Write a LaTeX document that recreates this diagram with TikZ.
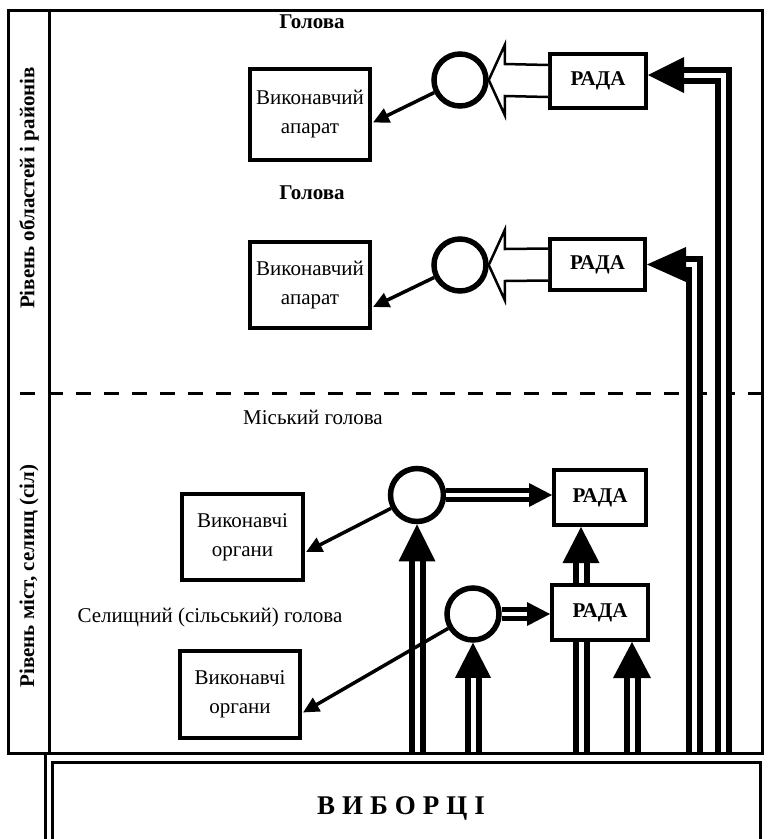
\documentclass[tikz,border=0pt]{standalone}
\usepackage{fontspec}
\setmainfont{Liberation Serif}
\usetikzlibrary{arrows.meta,calc}
\pgfdeclarelayer{bg}
\pgfsetlayers{bg,main}
\begin{document}
\begin{tikzpicture}[x=1pt,y=-1pt,
  frame/.style={line width=3pt},
  ebox/.style={draw,line width=4pt,rectangle,align=center,inner sep=0pt,fill=white,font=\fontsize{21}{29}\selectfont},
  rada/.style={draw,line width=4pt,rectangle,inner sep=0pt,fill=white,font=\fontsize{21}{24}\selectfont\bfseries},
  head/.style={circle,draw,line width=5.5pt,inner sep=0pt,minimum size=52pt,fill=white},
  lbl/.style={font=\fontsize{21}{24}\selectfont\bfseries,inner sep=0pt},
  txt/.style={font=\fontsize{21}{24}\selectfont,inner sep=0pt},
  sarrow/.style={line width=3.5pt,-{Triangle[length=16pt,width=15pt]}},
  dblv/.style={line width=6pt,double=white,double distance=5pt},
  dblh/.style={line width=5pt,double=white,double distance=4pt},
  hollow/.style={line width=2.5pt,fill=white,line join=miter},
  dashline/.style={line width=3pt,dash pattern=on 15pt off 13pt}
]
\useasboundingbox (0,0) rectangle (768,839);

% frame
\draw[frame] (8,10) rectangle (762,753);
\draw[frame] (49,10) -- (49,753);
\draw[frame] (45,753) -- (45,839);
\draw[frame] (52,839) -- (52,762) -- (760,762) -- (760,839);
\node[font=\fontsize{27}{30}\selectfont\bfseries,inner sep=0pt] (vyb) at (401,808) {В\hspace{7pt}И\hspace{7pt}Б\hspace{7pt}О\hspace{7pt}Р\hspace{7pt}Ц\hspace{7pt}І};

% side labels
\node[lbl,rotate=90] (lev1) at (29,188) {Рівень областей і районів};
\node[lbl,rotate=90] (lev2) at (29,576) {Рівень міст, селищ (сіл)};

% upper level
\node[lbl] (g1) at (312,22) {Голова};
\node[lbl] (g2) at (312,193) {Голова};
\node[ebox,minimum width=120pt,minimum height=91pt] (b1) at (310,114.5) {Виконавчий\\апарат};
\node[ebox,minimum width=120pt,minimum height=86pt] (b2) at (310,285) {Виконавчий\\апарат};
\node[head] (c1) at (460,80) {};
\node[head] (c2) at (460,265) {};
\node[rada,minimum width=96pt,minimum height=54pt] (r1) at (598,81) {РАДА};
\node[rada,minimum width=95pt,minimum height=51pt] (r2) at (597.5,264.5) {РАДА};

% lower level
\node[txt] (mg) at (313,417) {Міський голова};
\node[txt] (sg) at (210,617) {Селищний (сільський) голова};
\node[ebox,minimum width=121pt,minimum height=86pt] (b3) at (242.5,537) {Виконавчі\\органи};
\node[ebox,minimum width=120pt,minimum height=87pt] (b4) at (240,694.5) {Виконавчі\\органи};
\node[head,minimum size=53pt] (c3) at (417,495) {};
\node[head] (c4) at (473,614) {};
\node[rada,minimum width=92pt,minimum height=55pt] (r3) at (600,497.5) {РАДА};
\node[rada,minimum width=96pt,minimum height=55pt] (r4) at (600,612.5) {РАДА};

\begin{pgfonlayer}{bg}
  \draw[dashline] (20,393) -- (762,393);
  % long lines to the upper councils
  \draw[dblv] (723,753) -- (723,75) -- (684,75);
  \draw[dblv] (694,753) -- (694,264.5) -- (684,264.5);
  % lower vertical arrows
  \draw[dblv] (c3.south |- 0,753) -- ($(c3.south)+(0,37)$);
  \draw[dblv] (c4.south |- 0,753) -- ($(c4.south)+(0,35)$);
  \draw[dblv] (581,753) -- ($(r3.south -| 581,0)+(0,36)$);
  \draw[dblv] (632,753) -- ($(r4.south)+(32,36)$);
\end{pgfonlayer}

% heads of the long arrows
\fill ($(r1.east)+(0,-6)$) -- ++(36,-18) -- ++(0,36) -- cycle;
\fill (r2.east) -- ++(39,-17.5) -- ++(0,35) -- cycle;
% heads of lower vertical arrows
\fill (c3.south) -- ++(-18.5,37) -- ++(37,0) -- cycle;
\fill (c4.south) -- ++(-18,35) -- ++(36,0) -- cycle;
\fill (r3.south -| 581,0) -- ++(-18.5,36) -- ++(37,0) -- cycle;
\fill ($(r4.south)+(32,0)$) -- ++(-19,36) -- ++(38,0) -- cycle;

% hollow arrows council -> head
\draw[hollow] ($(r1.west)+(0,-16)$) -- ($(c1.east)+(16,-16)$) -- ($(c1.east)+(16,-35)$) -- (c1.east) -- ($(c1.east)+(16,35)$) -- ($(c1.east)+(16,16)$) -- ($(r1.west)+(0,16)$);
\draw[hollow] ($(r2.west)+(0,-16)$) -- ($(c2.east)+(16,-16)$) -- ($(c2.east)+(16,-35)$) -- (c2.east) -- ($(c2.east)+(16,35)$) -- ($(c2.east)+(16,16)$) -- ($(r2.west)+(0,16)$);

% head -> council (lower)
\draw[dblh] (c3.east) -- ($(c3.east -| r3.west)+(-22,0)$);
\fill (c3.east -| r3.west) -- ++(-23,-12) -- ++(0,24) -- cycle;
\draw[dblh] (c4.east) -- ($(c4.east -| r4.west)+(-22,0)$);
\fill (c4.east -| r4.west) -- ++(-23,-12) -- ++(0,24) -- cycle;

% head -> executive
\draw[sarrow] (c1) -- ($(b1.east)+(1,8)$);
\draw[sarrow] (c2) -- ($(b2.east)+(1,22)$);
\draw[sarrow] (c3) -- ($(b3.east)+(1,15)$);
\draw[sarrow] (c4) -- ($(b4.east)+(1,18)$);
\end{tikzpicture}
\end{document}
